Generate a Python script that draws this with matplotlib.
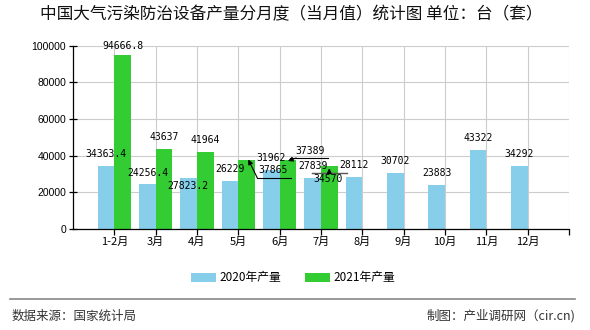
import matplotlib
matplotlib.use("Agg")
import matplotlib.pyplot as plt
import numpy as np

plt.rcParams['font.family'] = ['Noto Sans CJK SC', 'DejaVu Sans']

months = ["1-2月", "3月", "4月", "5月", "6月", "7月", "8月", "9月", "10月", "11月", "12月"]
prod_2020 = [34363.4, 24256.4, 27823.2, 26229, 31962, 27839, 28112, 30702, 23883, 43322, 34292]
prod_2021 = [94666.8, 43637, 41964, 37865, 37389, 34570]
labels_2020 = ["34363.4", "24256.4", "27823.2", "26229", "31962", "27839", "28112",
               "30702", "23883", "43322", "34292"]
labels_2021 = ["94666.8", "43637", "41964", "37865", "37389", "34570"]

C2020 = "#87CEEB"
C2021 = "#33CC33"
W = 0.4

fig = plt.figure(figsize=(5.9, 3.3), dpi=100)
fig.patch.set_facecolor("white")
ax = fig.add_axes([73 / 590, 101 / 330, 496 / 590, 183.5 / 330])

x = np.arange(1, len(months) + 1)
ax.bar(x[:len(prod_2020)] - W / 2, prod_2020, W, color=C2020, label="2020年产量", zorder=2)
ax.bar(x[:len(prod_2021)] + W / 2, prod_2021, W, color=C2021, label="2021年产量", zorder=2)

ax.set_xlim(0, 12)
ax.set_ylim(0, 100000)
ax.set_xticks(np.arange(1, 13))
ax.set_xticklabels(months + [""], fontsize=8)
ax.set_yticks(np.arange(0, 100001, 20000))
ax.set_yticklabels([str(v) for v in range(0, 100001, 20000)],
                   fontsize=7.5, family="Liberation Sans")
ax.grid(True, color="#cccccc", lw=0.8, zorder=0)
ax.set_axisbelow(True)
for s in ("top", "right"):
    ax.spines[s].set_visible(False)
for s in ("left", "bottom"):
    ax.spines[s].set_color("black")
    ax.spines[s].set_linewidth(0.9)
ax.tick_params(axis="x", direction="out", length=4, width=0.9, pad=2)
ax.tick_params(axis="y", direction="inout", length=6, width=0.9, pad=2)

lab_kw = dict(fontsize=7, family="DejaVu Sans Mono", ha="center", va="center", zorder=5)

# label positions that were moved off the bar top in the original chart
moved_2020 = {2: (2.78, 23430)}
moved_2021 = {0: (1.2, 99730), 3: (4.85, 32150), 4: (5.73, 42510), 5: (6.17, 27250)}

for i, (v, t) in enumerate(zip(prod_2020, labels_2020)):
    if i in moved_2020:
        ax.text(*moved_2020[i], t, **lab_kw)
    else:
        ax.annotate(t, (x[i] - W / 2, v), xytext=(0, 8.6), textcoords="offset points", **lab_kw)
for i, (v, t) in enumerate(zip(prod_2021, labels_2021)):
    if i in moved_2021:
        ax.text(*moved_2021[i], t, **lab_kw)
    else:
        ax.annotate(t, (x[i] + W / 2, v), xytext=(0, 8.6), textcoords="offset points", **lab_kw)

# leader lines for the moved labels
arr = dict(arrowstyle="-|>", color="black", lw=0.8, mutation_scale=7, shrinkA=0, shrinkB=0)
ax.plot([4.46, 5.28], [27790, 27790], color="black", lw=0.8, zorder=4)
ax.annotate("", xy=(4.24, prod_2021[3]), xytext=(4.46, 27790), arrowprops=arr, zorder=4)
ax.plot([5.25, 6.17], [38690, 38690], color="black", lw=0.8, zorder=4)
ax.annotate("", xy=(5.2, prod_2021[4] - 300), xytext=(5.4, 38690), arrowprops=arr, zorder=4)
ax.plot([5.79, 6.63], [30350, 30350], color="#555555", lw=1.0, zorder=4)
ax.annotate("", xy=(6.2, prod_2021[5] - 1500), xytext=(6.2, 30350), arrowprops=arr, zorder=4)

fig.text(291 / 590, 0.955, "中国大气污染防治设备产量分月度（当月值）统计图 单位：台（套）",
         ha="center", va="center", fontsize=12, color="#111111")

fig.legend(loc="center", bbox_to_anchor=(293 / 590, 1 - 278 / 330), ncol=2, frameon=False,
           fontsize=8.5, handlelength=2.1, handleheight=0.9, columnspacing=2.0,
           handletextpad=0.3)

fig.add_artist(plt.Line2D([10 / 590, 575 / 590], [1 - 299 / 330] * 2,
                          color="#888888", lw=1.2))
fig.text(12 / 590, 1 - 316 / 330, "数据来源：国家统计局", ha="left", va="center",
         fontsize=9, color="#333333")
fig.text(575 / 590, 1 - 316 / 330, "制图：产业调研网（cir.cn)", ha="right", va="center",
         fontsize=9, color="#333333")

fig.savefig("out.png", dpi=100, facecolor="white")
